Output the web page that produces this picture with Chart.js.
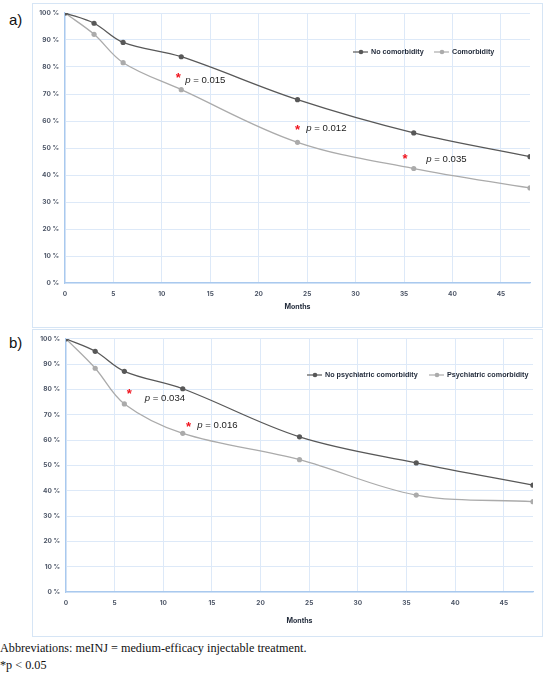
<!DOCTYPE html>
<html>
<head>
<meta charset="utf-8">
<script src="https://cdn.jsdelivr.net/npm/chart.js@4.4.1/dist/chart.umd.min.js"></script>
<style>
  body { margin: 0; background: #fff; width: 546px; height: 677px; position: relative; overflow: hidden; }
  .panel { position: absolute; left: 32px; width: 511px; box-sizing: border-box; border: 1px solid #d6e5f5; }
  .panel canvas { position: absolute; left: -1px; top: -1px; }
  .tag { position: absolute; left: 9px; font: 15px "Liberation Sans", Arial, sans-serif; color: #111; }
  .note { position: absolute; left: 0; font: 12.2px "Liberation Serif", "Times New Roman", serif; color: #111; }
</style>
</head>
<body>
<div class="tag" style="top:11px">a)</div>
<div class="tag" style="top:334px">b)</div>
<div class="panel" style="top:3px;height:325px"><canvas id="chartA" width="511" height="325"></canvas></div>
<div class="panel" style="top:329px;height:308px"><canvas id="chartB" width="511" height="308"></canvas></div>
<div class="note" style="top:641px">Abbreviations: meINJ = medium-efficacy injectable treatment.</div>
<div class="note" style="top:658px">*p &lt; 0.05</div>

<script>
// follow-up months
const months = [0, 3, 6, 12, 24, 36, 48];

// panel a
const noComorbidity = [100, 96.2, 89.1, 83.8, 67.9, 55.6, 46.8];
const comorbidity = [100, 92.1, 81.6, 71.6, 52.1, 42.4, 35.2];
const seriesNamesA = ['No comorbidity', 'Comorbidity'];
const pLabelsA = ['0.015', '0.012', '0.035'];
const starXA = [11.7, 24.0, 35.1];
const starYA = [76.7, 57.8, 46.7];
const pTextXA = [12.4, 24.9, 37.3];
const pTextYA = [75.0, 57.4, 45.9];

// panel b
const noPsychiatric = [100, 95.1, 87.2, 80.3, 61.3, 51.0, 42.2];
const psychiatric = [100, 88.4, 74.3, 62.7, 52.3, 38.3, 35.7];
const seriesNamesB = ['No psychiatric comorbidity', 'Psychiatric comorbidity'];
const pLabelsB = ['0.034', '0.016'];
const starXB = [6.5, 12.6];
const starYB = [79.1, 66.1];
const pTextXB = [8.1, 13.5];
const pTextYB = [76.4, 65.7];

const darkColor = '#585858';
const lightColor = '#ababab';
const gridColor = '#dde9f8';
const axisColor = '#a9c9ee';
const tickColor = '#4c5566';
const baseFont = 'Inter, "Liberation Sans", Arial, sans-serif';

// red star + italic p value annotations
const pValuePlugin = {
    id: 'pValues',
    afterDatasetsDraw(chart, args, opts) {
        const ctx = chart.ctx;
        const xs = chart.scales.x;
        const ys = chart.scales.y;
        ctx.save();
        opts.labels.forEach((lab, i) => {
            const sx = xs.getPixelForValue(opts.starX[i]);
            const sy = ys.getPixelForValue(opts.starY[i]);
            ctx.fillStyle = '#f0141e';
            ctx.font = 'bold 13px "Liberation Sans", Arial, sans-serif';
            ctx.textAlign = 'center';
            ctx.textBaseline = 'middle';
            ctx.fillText('*', sx, sy + 3);

            let tx = xs.getPixelForValue(opts.textX[i]);
            const ty = ys.getPixelForValue(opts.textY[i]);
            ctx.fillStyle = '#1c1c1c';
            ctx.textAlign = 'left';
            ctx.font = 'italic 9.6px "Liberation Sans", Arial, sans-serif';
            ctx.fillText('p', tx, ty);
            tx += ctx.measureText('p ').width;
            ctx.font = '9.6px "Liberation Sans", Arial, sans-serif';
            ctx.fillText('= ' + lab, tx, ty);
        });
        ctx.restore();
    }
};

// legend drawn inside the plot, line with a dot
const legendPlugin = {
    id: 'lineLegend',
    afterDraw(chart, args, opts) {
        const ctx = chart.ctx;
        ctx.save();
        ctx.font = 'bold 7.2px "Liberation Sans", Arial, sans-serif';
        ctx.textBaseline = 'middle';
        ctx.textAlign = 'left';
        chart.data.datasets.forEach((ds, i) => {
            const x = opts.x[i];
            const y = opts.y;
            ctx.strokeStyle = ds.borderColor;
            ctx.lineWidth = 1.2;
            ctx.beginPath();
            ctx.moveTo(x, y);
            ctx.lineTo(x + 15, y);
            ctx.stroke();
            ctx.fillStyle = ds.borderColor;
            ctx.beginPath();
            ctx.arc(x + 8, y, 2.3, 0, Math.PI * 2);
            ctx.fill();
            ctx.fillStyle = '#1f2838';
            ctx.fillText(ds.label, x + 18, y);
        });
        ctx.restore();
    }
};

function makeChart(id, names, first, second, notes, box) {
    const series = [first, second];
    const colors = [darkColor, lightColor];
    return new Chart(document.getElementById(id), {
        type: 'line',
        data: {
            datasets: series.map((vals, i) => ({
                label: names[i],
                data: months.map((m, k) => ({ x: m, y: vals[k] })),
                borderColor: colors[i],
                backgroundColor: colors[i],
                borderWidth: 1.3,
                pointRadius: 2.6,
                pointBorderWidth: 0,
                tension: 0.35,
                fill: false
            }))
        },
        options: {
            responsive: false,
            animation: false,
            devicePixelRatio: 1,
            layout: { padding: { left: 0, top: box.top, right: box.right, bottom: 0 } },
            plugins: {
                legend: { display: false },
                tooltip: { enabled: false },
                pValues: notes,
                lineLegend: box.legend
            },
            scales: {
                x: {
                    type: 'linear',
                    min: 0,
                    max: 48,
                    afterBuildTicks: scale => {
                        scale.ticks = scale.ticks.filter(t => t.value % 5 === 0);
                    },
                    afterFit: scale => { scale.height = box.bottom; },
                    ticks: { stepSize: 5, padding: 7, color: tickColor, font: { family: baseFont, size: 6.5, weight: 'bold' } },
                    grid: { color: gridColor, drawTicks: false },
                    border: { color: axisColor, width: 1.2 },
                    title: {
                        display: true,
                        text: 'Months',
                        color: '#1f2838',
                        font: { family: baseFont, size: 7, weight: 'bold' },
                        padding: { top: 0, bottom: box.titlePad }
                    }
                },
                y: {
                    min: 0,
                    max: 100,
                    afterFit: scale => { scale.width = box.left; },
                    ticks: {
                        stepSize: 10,
                        padding: 6,
                        color: tickColor,
                        font: { family: baseFont, size: 6.5, weight: 'bold' },
                        callback: v => v + ' %'
                    },
                    grid: { color: gridColor, drawTicks: false },
                    border: { color: axisColor, width: 1.2 }
                }
            }
        },
        plugins: [pValuePlugin, legendPlugin]
    });
}

makeChart('chartA', seriesNamesA, noComorbidity, comorbidity,
    { labels: pLabelsA, starX: starXA, starY: starYA, textX: pTextXA, textY: pTextYA },
    { left: 33, top: 10, right: 13, bottom: 45, titlePad: 17, legend: { x: [321, 402], y: 49 } });

makeChart('chartB', seriesNamesB, noPsychiatric, psychiatric,
    { labels: pLabelsB, starX: starXB, starY: starYB, textX: pTextXB, textY: pTextYB },
    { left: 34, top: 9, right: 10, bottom: 45, titlePad: 12, legend: { x: [275, 397], y: 46 } });
</script>
</body>
</html>
